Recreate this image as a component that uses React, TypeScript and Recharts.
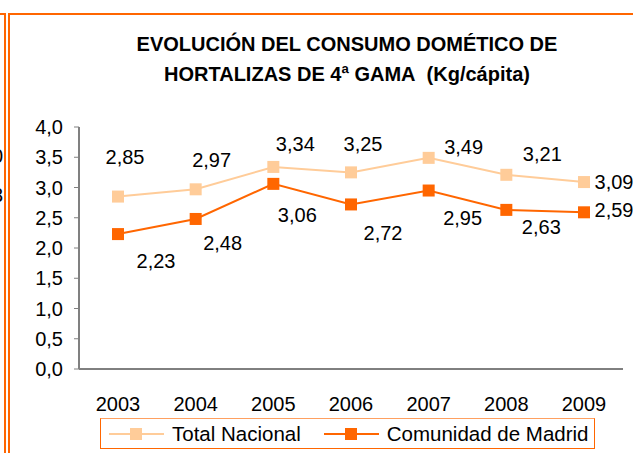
import React from "react";
import { LineChart, Line, XAxis, YAxis, Legend, LabelList } from "recharts";

const years = ["2003", "2004", "2005", "2006", "2007", "2008", "2009"];
const totalNacional = [2.85, 2.97, 3.34, 3.25, 3.49, 3.21, 3.09];
const comunidadMadrid = [2.23, 2.48, 3.06, 2.72, 2.95, 2.63, 2.59];
const yTicks = [0, 0.5, 1, 1.5, 2, 2.5, 3, 3.5, 4];
const bandEdges = [0, 1, 2, 3, 4, 5, 6, 7];

// label nudges (dx, dy) like the manually moved Excel labels
const totalOffsets = [[7, -40], [16, -29], [22, -23], [12, -28], [35, -11], [36, -21], [30, 0]];
const madridOffsets = [[38, 27], [27, 24], [24, 31], [32, 29], [34, 27], [35, 17], [30, -2]];

const LIGHT = "#FFCC99";
const DARK = "#FF6600";
const FONT = "'Liberation Sans', Arial, sans-serif";

const data = years.map((year, i) => ({
  year,
  total: totalNacional[i],
  madrid: comunidadMadrid[i],
}));

const fmt = (v: number, d: number) => v.toFixed(d).replace(".", ",");

const squareDot = (color: string) => (props: any) => {
  const { cx, cy, index } = props;
  return <rect key={`d-${index}`} x={cx - 6} y={cy - 6} width={12} height={12} fill={color} />;
};

const makeLabel = (offsets: number[][]) => (props: any) => {
  const { x, y, value, index } = props;
  const [dx, dy] = offsets[index] || [0, 0];
  return (
    <text
      key={`l-${index}`}
      x={x + dx}
      y={y + dy}
      textAnchor="middle"
      dominantBaseline="central"
      fontSize={20}
      fontFamily={FONT}
      fill="#000"
    >
      {fmt(value, 2)}
    </text>
  );
};

const LegendBox = () => {
  const items = [
    { name: "Total Nacional", color: LIGHT },
    { name: "Comunidad de Madrid", color: DARK },
  ];
  return (
    <div
      style={{
        border: `1.5px solid ${DARK}`,
        borderTopColor: "#FFA060",
        height: 31,
        display: "flex",
        alignItems: "center",
        paddingLeft: 8,
        boxSizing: "border-box",
        fontFamily: FONT,
        fontSize: 20.5,
        color: "#000",
        whiteSpace: "nowrap",
      }}
    >
      {items.map((it, i) => (
        <span key={it.name} style={{ display: "flex", alignItems: "center", marginRight: i === 0 ? 23 : 0 }}>
          <svg width={55} height={14} style={{ marginRight: 8 }}>
            <line x1={0} y1={7} x2={55} y2={7} stroke={it.color} strokeWidth={2} />
            <rect x={21} y={1} width={12} height={12} fill={it.color} />
          </svg>
          {it.name}
        </span>
      ))}
    </div>
  );
};

export default function App() {
  return (
    <div style={{ position: "absolute", left: 0, top: 0, width: 633, height: 453, overflow: "hidden", background: "#fff" }}>
      {/* frame edges */}
      <div style={{ position: "absolute", left: 0, top: 13, width: 6, height: 2, background: DARK }} />
      <div style={{ position: "absolute", left: 4, top: 13, width: 2, height: 440, background: DARK }} />
      <div style={{ position: "absolute", left: 8, top: 13, width: 2, height: 440, background: DARK }} />
      <div style={{ position: "absolute", left: 8, top: 13, width: 625, height: 2, background: DARK }} />
      {/* fragments of neighbouring chart */}
      <div style={{ position: "absolute", left: -8, top: 145, fontFamily: FONT, fontSize: 20 }}>0</div>
      <div style={{ position: "absolute", left: -8, top: 184, fontFamily: FONT, fontSize: 20 }}>3</div>

      <div
        style={{
          position: "absolute",
          left: 0,
          top: 29,
          width: 694,
          textAlign: "center",
          fontFamily: FONT,
          fontWeight: "bold",
          fontSize: 20,
          lineHeight: "30px",
          color: "#000",
        }}
      >
        EVOLUCIÓN DEL CONSUMO DOMÉTICO DE
        <br />
        HORTALIZAS DE 4ª GAMA&nbsp;&nbsp;(Kg/cápita)
      </div>

      <div style={{ position: "absolute", left: 0, top: 0 }}>
        <LineChart width={633} height={453} data={data} margin={{ top: 127, right: 10, left: 0, bottom: 44 }}>
          <XAxis
            xAxisId="edges"
            type="number"
            domain={[0, 7]}
            ticks={bandEdges}
            allowDataOverflow
            tick={false}
            axisLine={false}
            tickLine={{ stroke: "#000" }}
            tickSize={5}
            height={0}
          />
          <XAxis
            dataKey="year"
            padding={{ left: 39, right: 39 }}
            axisLine={{ stroke: "#000" }}
            tickLine={false}
            tickMargin={22}
            tick={{ fontSize: 20, fontFamily: FONT, fill: "#000" }}
            height={40}
          />
          <YAxis
            domain={[0, 4]}
            ticks={yTicks}
            width={79}
            axisLine={{ stroke: "#808080", strokeWidth: 2 }}
            tickLine={{ stroke: "#808080" }}
            tickSize={5}
            tickMargin={11}
            tickFormatter={(v: number) => fmt(v, 1)}
            tick={{ fontSize: 20, fontFamily: FONT, fill: "#000" }}
          />
          <Line
            dataKey="total"
            name="Total Nacional"
            stroke={LIGHT}
            strokeWidth={2}
            dot={squareDot(LIGHT)}
            activeDot={false}
            isAnimationActive={false}
          >
            <LabelList dataKey="total" content={makeLabel(totalOffsets)} />
          </Line>
          <Line
            dataKey="madrid"
            name="Comunidad de Madrid"
            stroke={DARK}
            strokeWidth={2}
            dot={squareDot(DARK)}
            activeDot={false}
            isAnimationActive={false}
          >
            <LabelList dataKey="madrid" content={makeLabel(madridOffsets)} />
          </Line>
          <Legend
            layout="horizontal"
            verticalAlign="middle"
            align="center"
            content={<LegendBox />}
            wrapperStyle={{ top: 418, left: 100, width: 495, height: 31 }}
          />
        </LineChart>
      </div>
    </div>
  );
}
